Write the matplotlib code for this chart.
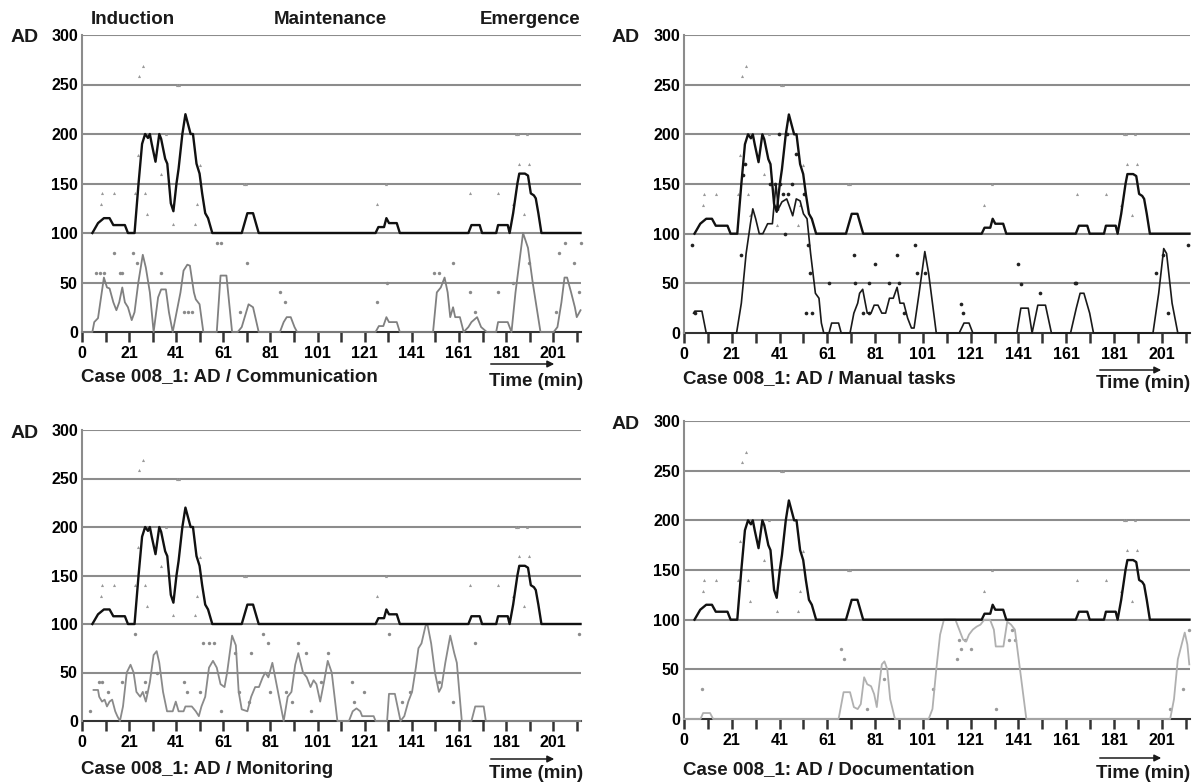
import numpy as np
import matplotlib
matplotlib.use("Agg")
import matplotlib.pyplot as plt

plt.rcParams['font.family'] = ['Liberation Sans', 'DejaVu Sans']
plt.rcParams['font.weight'] = 'bold'

# ---- AD curve (same in all four panels) ----
ad_x = [4.4, 6.8, 9.3, 11.7, 13.3, 18.2, 19.5, 22.3, 24, 25.5, 26.8, 28, 28.8, 29.6, 31.2, 32.8,
        33.6, 35.3, 36.2, 37.7, 38.8, 40.1, 41, 42.6, 43.9, 45, 46.1, 47.1, 48.6, 49.9, 51,
        52.3, 53.5, 55.3, 67.8, 70.2, 72.6, 75, 124.6, 125.8, 128.2, 129.2, 130.3, 133.6,
        134.9, 164, 165.3, 168.8, 169.8, 175.8, 176.6, 180.7, 181.5, 183, 184.8, 185.6, 188,
        189.3, 190.5, 191.8, 192.6, 193.7, 195, 211.6]
ad_y = [100, 110, 115, 115, 108, 108, 100, 100, 150, 190, 200, 196, 200, 190, 172, 200,
        195, 175, 170, 130, 122, 150, 165, 200, 220, 210, 200, 200, 170, 160, 140,
        120, 115, 100, 100, 120, 120, 100, 100, 106, 106, 115, 110, 110,
        100, 100, 108, 108, 100, 100, 108, 108, 100, 120, 150, 160, 160,
        158, 140, 138, 135, 120, 100, 100]
ad_dot_x = [8.5, 13.6, 22.6, 26.8, 24.4, 25.8, 23.6, 33.6, 35.7, 40.5, 41.3, 49.9, 68.6, 69.6,
            129, 164.5, 176.6, 184, 185, 188.8, 185.6, 189.6, 8, 27.6, 38.8, 47.8, 48.6, 125.4,
            182.8, 187.7]
ad_dot_y = [140, 140, 140, 140, 259, 269, 179, 160, 200, 250, 250, 169, 150, 150,
            150, 140, 140, 200, 200, 200, 170, 170, 129, 119, 109, 109, 129, 129,
            129, 119]

# ---- Communication ----
comm_x = [0, 4.4, 5.2, 6.8, 9.3, 10.6, 11.7, 13.3, 14.6, 15.8, 17.1, 18.2, 19.5, 21.1, 22.3, 23.9,
          25.8, 27.1, 28.8, 30.4, 32.3, 33.6, 35.6, 36.9, 38.5, 41.8, 43.1, 44.7, 45.8, 47.5,
          48.3, 49.9, 51.5, 57.2, 58.8, 61.3, 63.7, 66.1, 67.8, 70.7, 72.6, 75, 84, 85.6, 86.9,
          88.6, 90.2, 91.3, 124.6, 126, 127.9, 129.2, 130.3, 133.6, 134.9, 149, 150.6, 152.3,
          153.9, 155.2, 156.3, 157.5, 158.4, 160.4, 162, 164, 165.3, 167.7, 169.4, 171.8,
          175.8, 176.6, 180.7, 182.3, 184, 187.2, 189.3, 191.3, 194.6, 200.2, 201.8, 203.5,
          204.8, 205.9, 207.6, 209.2, 210, 211.6]
comm_y = [0, 0, 10, 14, 55, 45, 44, 30, 22, 30, 45, 30, 25, 12, 20, 50,
          78, 65, 40, 0, 35, 43, 43, 20, 0, 40, 62, 68, 67, 40,
          33, 28, 0, 0, 57, 57, 0, 0, 5, 28, 25, 0, 0, 10, 15,
          15, 5, 0, 0, 6, 6, 15, 10, 10, 0, 0, 40, 45,
          55, 40, 15, 25, 15, 15, 0, 5, 10, 15, 5, 0,
          0, 10, 10, 0, 40, 100, 85, 50, 0, 0, 5, 30,
          55, 55, 40, 25, 15, 22]
comm_dot_x = [6, 7.6, 9.3, 13.6, 16, 17, 21.8, 23.4, 33.6, 43.4, 45, 46.6, 57.2, 58.8, 67, 70.2,
              84, 86, 125.4, 129.5, 149.5, 151.5, 157.5, 164.5, 166.6, 176.6, 182.8, 189.6,
              201, 202.6, 205, 208.8, 210.8, 211.6]
comm_dot_y = [60, 60, 60, 80, 60, 60, 80, 70, 60, 20, 20, 20, 90, 90, 20, 70,
              40, 30, 30, 50, 60, 60, 70, 40, 20, 40, 50, 70,
              20, 80, 90, 70, 40, 90]

# ---- Manual tasks ----
man_x = [4, 4.5, 7.5, 9.3, 22, 24, 26, 27.8, 28.8, 30, 31.5, 33, 35, 37, 38.5, 39.5, 41, 43,
         44.5, 45.5, 47, 48.6, 50, 51.5, 53, 55, 56.5, 57.5, 58.5, 60.7, 61.8, 64.7, 65.8,
         69.5, 71.1, 72.7, 73.5, 74.8, 75.9, 76.7, 78.3, 79.6, 81.2, 82.8, 84.4, 86, 87.6,
         89.2, 90.4, 92, 93.6, 95.2, 96.3, 98.4, 100.8, 102.4, 104, 105.6, 115.2, 117.2,
         119.3, 120.9, 139.3, 141, 144.1, 145.7, 148.1, 151.3, 153.8, 161.8, 164.2, 165.8,
         167.4, 169.8, 171.4, 196.3, 198.7, 200.8, 202, 204.3, 206.7, 211.6]
man_y = [20, 22, 22, 0, 0, 30, 80, 110, 125, 115, 100, 100, 110, 110, 150, 125, 132, 135,
         125, 118, 135, 133, 120, 115, 80, 40, 35, 10, 0, 0, 10, 10, 0,
         0, 20, 30, 40, 44, 30, 20, 20, 28, 28, 20, 20, 35, 35,
         46, 30, 30, 15, 5, 5, 40, 82, 60, 30, 0, 0, 10,
         10, 0, 0, 25, 25, 0, 28, 28, 0, 0, 25, 40,
         40, 20, 0, 0, 40, 85, 80, 30, 0, 0]
man_dot_x = [3.4, 4.5, 23.8, 42.2, 51, 53.4, 52.6, 51.8, 60.7, 71.1, 71.6, 75.1, 77.5, 80, 77.5,
             85.9, 89.2, 90, 92, 96.8, 97.6, 100.8, 116, 116.8, 140, 141, 149, 163.6, 164.2,
             197.4, 200.3, 202.4, 211, 35.8, 38.2, 41.4, 43.5, 39, 45, 50.2, 25.4, 24.6, 40,
             43, 39.8, 47]
man_dot_y = [89, 20, 79, 100, 20, 20, 60, 89, 50, 79, 50, 20, 20, 69, 50,
             50, 79, 50, 20, 89, 60, 60, 29, 20, 69, 49, 40, 50, 50,
             60, 79, 20, 89, 150, 150, 140, 140, 125, 150, 140, 170, 159, 150,
             200, 200, 180]

# ---- Monitoring ----
mon_x = [4.9, 6.8, 7.3, 8.5, 9.6, 10.6, 11.7, 12.8, 14.1, 15, 16.1, 17.4, 19, 20.6, 21.9, 23.1,
         24.7, 25.8, 27.1, 28.8, 30.4, 31.7, 32.8, 34.4, 36.1, 38.5, 39.8, 41, 43.1, 43.9,
         46.6, 48.3, 49.6, 50.7, 52.3, 53.9, 55.6, 57.2, 58.8, 60.5, 61.6, 63.7, 65.3, 66.5,
         67.8, 70.2, 71.8, 73.5, 75.1, 76.7, 77.8, 79.1, 80.8, 82.4, 84, 85.6, 87.3, 88.9,
         90.5, 91.8, 93.8, 95.4, 97, 98.3, 99.5, 101.1, 102.7, 104.3, 106, 108.4, 113.3,
         114.9, 116.5, 118.1, 118.9, 123.8, 124.6, 129.5, 130.3, 132.8, 135.2, 136.8, 138.5,
         140.1, 141.7, 142.8, 144.1, 145.8, 146.6, 148.2, 149.8, 151.5, 152.6, 154.2, 156.3,
         158, 159.1, 161.2, 165.3, 166.9, 170.5, 171.4, 211.6]
mon_y = [32, 32, 25, 20, 22, 15, 20, 22, 10, 5, 0, 15, 50, 58, 50, 30,
         25, 30, 20, 40, 68, 72, 60, 30, 10, 10, 20, 10, 10, 15,
         15, 10, 5, 15, 25, 55, 62, 55, 38, 35, 50, 88, 78, 30,
         12, 10, 25, 35, 35, 45, 50, 45, 60, 40, 20, 0, 25, 30,
         58, 70, 50, 45, 35, 42, 38, 20, 40, 62, 50, 0, 0,
         10, 13, 10, 5, 5, 0, 0, 28, 28, 0, 5, 20,
         30, 55, 75, 80, 98, 100, 80, 50, 30, 35, 60, 88,
         70, 60, 0, 0, 15, 15, 0, 0]
mon_dot_x = [3.2, 7.3, 8.5, 10.9, 22.3, 17, 26.8, 27.1, 32, 43.4, 44.7, 49.9, 51.5, 54, 56,
             58.8, 64.8, 66.5, 71.8, 71, 76.7, 78.8, 80, 86.5, 89, 91.8, 95, 97, 101.6, 104.3,
             114.6, 115.4, 119.8, 130.3, 136, 139.3, 151.5, 157.6, 166.6, 211]
mon_dot_y = [10, 40, 40, 30, 90, 40, 40, 30, 50, 40, 30, 30, 80, 80, 80,
             10, 70, 30, 70, 20, 90, 80, 30, 30, 20, 80, 70, 10, 40, 70,
             40, 20, 30, 90, 20, 30, 40, 20, 80, 90]

# ---- Documentation ----
doc_x = [0, 6.9, 8, 10.9, 12.2, 64.7, 66.8, 69.5, 71.1, 72.7, 74, 75.4, 76.7, 78.3, 79.6, 80.7,
         81.5, 82.8, 83.9, 85.1, 86.3, 88.3, 102.4, 104, 105.6, 107.2, 108.8, 113.6, 115.2,
         116.8, 118.1, 119.3, 120.9, 122.5, 124.1, 125.7, 128.1, 129.7, 130.5, 133.7, 135.3,
         136.9, 138.5, 140.1, 141.7, 143.3, 203.5, 205.1, 206.7, 208.3, 209.6, 210.7, 211.5]
doc_y = [0, 0, 6, 6, 0, 0, 27, 27, 12, 10, 15, 42, 35, 33, 25, 12,
         30, 55, 58, 50, 20, 0, 0, 10, 50, 85, 100, 100, 90,
         80, 78, 85, 90, 93, 95, 100, 100, 90, 73, 73, 98,
         95, 90, 60, 30, 0, 0, 20, 60, 75, 87, 75, 55]
doc_dot_x = [7.4, 65.8, 66.8, 76.7, 83.9, 104.3, 114.4, 116, 120, 115, 117.6, 130.5, 136, 138.5,
             137.4, 203.5, 209, 211.5]
doc_dot_y = [30, 70, 60, 10, 40, 30, 60, 70, 70, 80, 80, 10, 80, 80,
             90, 10, 30, 90]

# Excel-style category labels sit under every second tick
tick_labels = ['0', '21', '41', '61', '81', '101', '121', '141', '161', '181', '201']
label_pos = [0, 20, 40, 60, 80, 100, 120, 140, 160, 180, 200]
odd_ticks = [10, 30, 50, 70, 90, 110, 130, 150, 170, 190, 210]

W, H = 1200, 784
fig = plt.figure(figsize=(12, 7.84), dpi=100)


def rect(left, right, top, bottom):
    return [left / W, 1 - bottom / H, (right - left) / W, (bottom - top) / H]


def panel(r, tx, ty, tcol, tlw, dx, dy, dcol, dsize):
    ax = fig.add_axes(r)
    ax.set_xlim(0, 211.8)
    ax.set_ylim(0, 300)
    for y in range(50, 301, 50):
        ax.axhline(y, color='#8c8c8c', lw=1.5, zorder=1)
    for s in ['top', 'right', 'bottom']:
        ax.spines[s].set_visible(False)
    ax.spines['left'].set_color('#8c8c8c')
    ax.spines['left'].set_linewidth(1.5)
    ax.axhline(0, color='#333333', lw=1.5, zorder=2, clip_on=False)
    ax.set_yticks(range(0, 301, 50))
    ax.tick_params(axis='y', length=0, pad=3, labelsize=11.5)
    ax.set_xticks(label_pos)
    ax.set_xticklabels(tick_labels)
    ax.set_xticks(odd_ticks, minor=True)
    ax.tick_params(axis='x', which='both', length=7, width=1.8, color='#333333',
                   direction='out', pad=3, labelsize=11.5)
    ax.scatter(ad_dot_x, ad_dot_y, s=5, color='#999999', marker='^', zorder=3, clip_on=False, linewidths=0)
    ax.scatter(dx, dy, s=dsize, color=dcol, zorder=3, clip_on=False, linewidths=0)
    ax.plot(tx, ty, color=tcol, lw=tlw, zorder=4, clip_on=False)
    ax.plot(ad_x, ad_y, color='#111111', lw=1.7, zorder=5, clip_on=False)
    return ax


panel(rect(82, 581, 35, 332), comm_x, comm_y, '#808080', 1.3, comm_dot_x, comm_dot_y, '#8a8a8a', 6)
panel(rect(684, 1190, 35, 333), man_x, man_y, '#1a1a1a', 1.2, man_dot_x, man_dot_y, '#222222', 7)
panel(rect(82, 581, 430, 721), mon_x, mon_y, '#8a8a8a', 1.3, mon_dot_x, mon_dot_y, '#8a8a8a', 6)
panel(rect(684, 1190, 421, 719), doc_x, doc_y, '#b0b0b0', 1.3, doc_dot_x, doc_dot_y, '#9a9a9a', 6)


def txt(x, y, s, size=13.5, ha='left'):
    fig.text(x / W, 1 - y / H, s, fontsize=size, fontweight='bold', ha=ha, va='center',
             color='#1a1a1a')


def arrow(x0, x1, y):
    fig.add_artist(matplotlib.patches.FancyArrowPatch(
        (x0 / W, 1 - y / H), (x1 / W, 1 - y / H), transform=fig.transFigure,
        arrowstyle='-|>', mutation_scale=10, lw=1.1, color='#1a1a1a'))


txt(133, 19, 'Induction', ha='center')
txt(330, 19, 'Maintenance', ha='center')
txt(580, 19, 'Emergence', ha='right')

txt(11, 37, 'AD', size=14)
txt(612, 38, 'AD', size=14)
txt(11, 433, 'AD', size=14)
txt(612, 424, 'AD', size=14)

txt(81, 377, 'Case 008_1: AD / Communication')
txt(683, 379, 'Case 008_1: AD / Manual tasks')
txt(81, 770, 'Case 008_1: AD / Monitoring')
txt(683, 770, 'Case 008_1: AD / Documentation')

txt(583, 382, 'Time (min)', ha='right')
txt(1190, 384, 'Time (min)', ha='right')
txt(583, 774, 'Time (min)', ha='right')
txt(1190, 774, 'Time (min)', ha='right')

arrow(488, 557, 364)
arrow(1097, 1164, 370)
arrow(488, 557, 759)
arrow(1097, 1164, 758)

fig.savefig('out.png', dpi=100)
